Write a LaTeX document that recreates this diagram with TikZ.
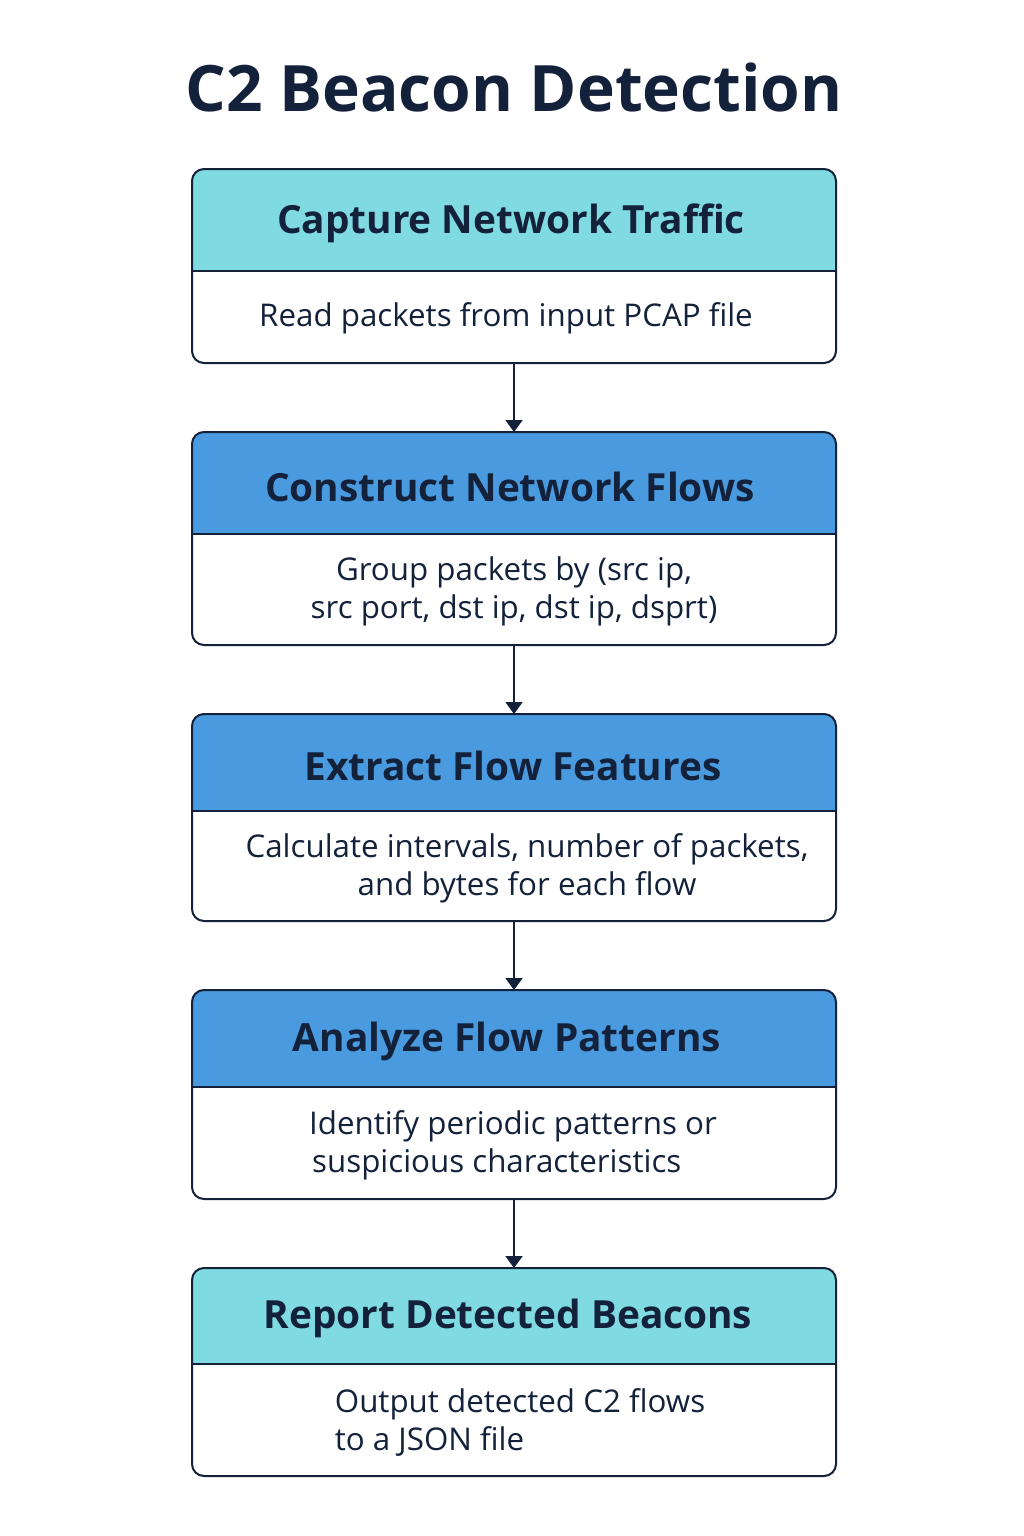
\documentclass[tikz,border=0pt]{standalone}
\usepackage{fontspec}
\setmainfont{Open Sans}
\usetikzlibrary{arrows.meta}
\definecolor{navy}{HTML}{13213A}
\definecolor{tealhead}{HTML}{7FDAE1}
\definecolor{bluehead}{HTML}{4A9ADF}
\tikzset{
  boxframe/.style={draw=navy, line width=2pt, rounded corners=12pt},
  headtext/.style={text=navy, font=\fontsize{38.8}{44}\selectfont\bfseries, anchor=center},
  bodytext/.style={text=navy, font=\fontsize{31.3}{38}\selectfont, anchor=center, align=center},
  flow/.style={draw=navy, line width=2pt, -{Triangle[length=12pt,width=17pt]}}
}
% one stage: #1 name, #2 top, #3 divider, #4 bottom, #5 header colour
\newcommand{\stagebox}[5]{%
  \begin{scope}
    \clip[rounded corners=12pt] (192,#2) rectangle (836,#4);
    \fill[#5] (192,#2) rectangle (836,#3);
    \fill[white] (192,#3) rectangle (836,#4);
  \end{scope}
  \draw[navy, line width=2pt] (192,#3) -- (836,#3);
  \draw[boxframe] (192,#2) rectangle (836,#4);
  \coordinate (#1top) at (514,#2);
  \coordinate (#1bot) at (514,#4);
}
\begin{document}
\begin{tikzpicture}[x=1pt,y=-1pt]
  \useasboundingbox[fill=white] (0,0) rectangle (1024,1536);
  \node[text=navy, font=\fontsize{64}{74}\selectfont\bfseries] (title) at (514,88) {C2 Beacon Detection};

  \stagebox{s1}{169}{271}{363}{tealhead}
  \stagebox{s2}{432}{534}{645}{bluehead}
  \stagebox{s3}{714}{811}{921}{bluehead}
  \stagebox{s4}{990}{1087}{1199}{bluehead}
  \stagebox{s5}{1268}{1364}{1476}{tealhead}

  \node[headtext] (h1) at (511,223) {Capture Network Traffic};
  \node[bodytext] (b1) at (506,318) {Read packets from input PCAP file};

  \node[headtext] (h2) at (510,487) {Construct Network Flows};
  \node[bodytext] (b2) at (514,591) {Group packets by (src ip,\\src port, dst ip, dst ip, dsprt)};

  \node[headtext] (h3) at (513,766) {Extract Flow Features};
  \node[bodytext] (b3) at (527,868) {Calculate intervals, number of packets,\\and bytes for each flow};

  \node[headtext] (h4) at (507,1041) {Analyze Flow Patterns};
  \node[bodytext, align=left] (b4) at (513,1145) {Identify periodic patterns or\\\hspace*{3pt}suspicious characteristics};

  \node[headtext] (h5) at (508,1318) {Report Detected Beacons};
  \node[bodytext, align=left] (b5) at (520,1422) {Output detected C2 flows\\to a JSON file};

  \draw[flow] (s1bot) -- (s2top);
  \draw[flow] (s2bot) -- (s3top);
  \draw[flow] (s3bot) -- (s4top);
  \draw[flow] (s4bot) -- (s5top);
\end{tikzpicture}
\end{document}
